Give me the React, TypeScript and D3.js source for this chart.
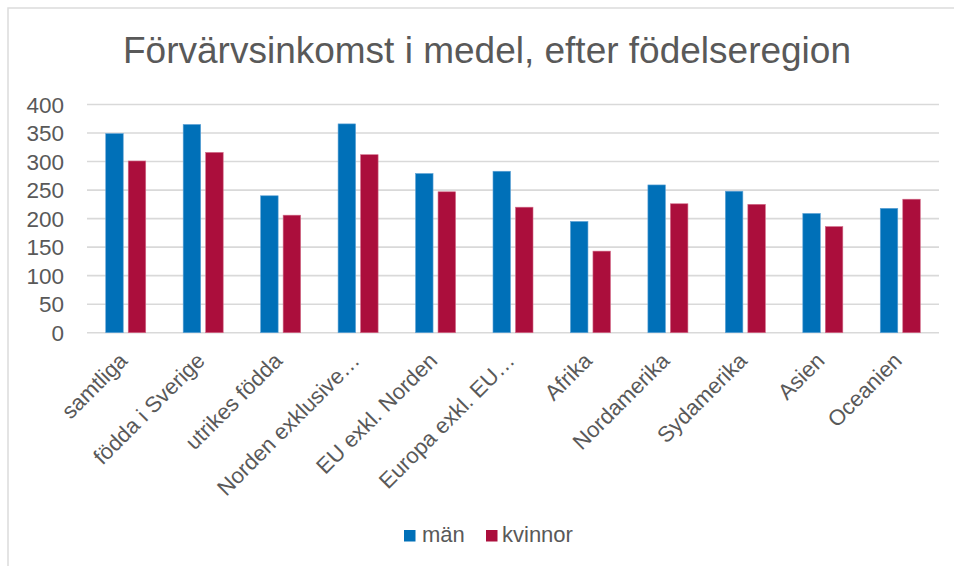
import React from "react";
import * as d3 from "d3";

const categories = [
  "samtliga",
  "födda i Sverige",
  "utrikes födda",
  "Norden exklusive…",
  "EU exkl. Norden",
  "Europa exkl. EU…",
  "Afrika",
  "Nordamerika",
  "Sydamerika",
  "Asien",
  "Oceanien",
];
const man = [349, 365, 240, 366, 279, 283, 195, 259, 248, 209, 218];
const kvinnor = [301, 316, 206, 312, 247, 220, 143, 226, 225, 186, 234];
const yTicks = [0, 50, 100, 150, 200, 250, 300, 350, 400];
const seriesNames = ["män", "kvinnor"];
const colors = ["#0070b8", "#ab0e3c"];

const W = 954;
const H = 566;
const FONT = "'Liberation Sans', Arial, Helvetica, sans-serif";
const TEXT = "#595959";

export default function App() {
  const plotLeft = 87;
  const plotRight = 939;
  const plotTop = 104.5;
  const plotBottom = 332.7;

  const x = d3.scaleBand<string>().domain(categories).range([plotLeft, plotRight]).paddingInner(0).paddingOuter(0);
  const y = d3.scaleLinear().domain([0, 400]).range([plotBottom, plotTop]);
  const step = x.bandwidth();
  const barW = step * 0.226;
  const gap = 5;
  const series = [man, kvinnor];

  return (
    <svg
      width={W}
      height={H}
      style={{ position: "absolute", left: 0, top: 0, background: "#fff" }}
      fontFamily={FONT}
    >
      <rect x={0} y={0} width={W} height={H} fill="#fff" />
      <rect x={8} y={8} width={W} height={H} fill="none" stroke="#dcdcdc" strokeWidth={1.5} />
      <text x={487} y={63} textAnchor="middle" fontSize={37} fill={TEXT}>
        Förvärvsinkomst i medel, efter födelseregion
      </text>
      {yTicks.map((t) => (
        <g key={t}>
          <line x1={plotLeft} x2={plotRight} y1={y(t)} y2={y(t)} stroke="#d9d9d9" strokeWidth={1.6} />
          <text x={64} y={y(t)} dy="0.36em" textAnchor="end" fontSize={22.5} fill={TEXT}>
            {t}
          </text>
        </g>
      ))}
      {categories.map((c, i) => {
        const cx = (x(c) as number) + step / 2;
        return (
          <g key={c}>
            {series.map((s, si) => {
              const bx = si === 0 ? cx - gap / 2 - barW : cx + gap / 2;
              return (
                <rect
                  key={si}
                  x={bx}
                  y={y(s[i])}
                  width={barW}
                  height={y(0) - y(s[i])}
                  fill={colors[si]}
                  stroke={si === 0 ? "#5fa3d6" : "#d26b88"}
                  strokeWidth={0.6}
                />
              );
            })}
            <text
              transform={`translate(${cx + 3},${362}) rotate(-45)`}
              textAnchor="end"
              fontSize={22}
              fill={TEXT}
            >
              {c}
            </text>
          </g>
        );
      })}
      <g>
        <rect x={404} y={530} width={11.5} height={11.5} fill={colors[0]} />
        <text x={422} y={542} fontSize={22} fill={TEXT}>
          {seriesNames[0]}
        </text>
        <rect x={486} y={530} width={11.5} height={11.5} fill={colors[1]} />
        <text x={502} y={542} fontSize={22} fill={TEXT}>
          {seriesNames[1]}
        </text>
      </g>
    </svg>
  );
}
